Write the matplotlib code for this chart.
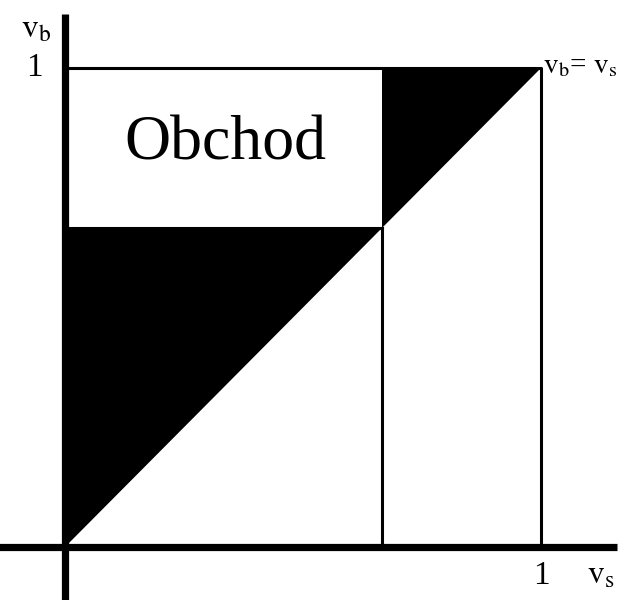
import matplotlib
matplotlib.use('Agg')
import matplotlib.pyplot as plt

plt.rcParams['font.family'] = 'Liberation Serif'
plt.rcParams['mathtext.fontset'] = 'stix'

# trade region boundary: seller value threshold / buyer value threshold
threshold = 2 / 3
region_label = 'Obchod'
tick_labels = ['1', '1']

fig = plt.figure(figsize=(6.27, 6.0), dpi=100)
ax = fig.add_axes([0, 0, 1, 1])
ax.set_xlim(-65 / 476, (627 - 65) / 476)
ax.set_ylim((547 - 600) / 479, 547 / 479)
ax.axis('off')

# black triangles
ax.fill([0, 0, threshold], [0, threshold, threshold], color='black', lw=0)
ax.fill([threshold, threshold, 1], [threshold, 1, 1], color='black', lw=0)

# unit square and threshold lines
ax.plot([0, 1, 1], [1, 1, 0], color='black', lw=2.2)
ax.plot([0, threshold], [threshold, threshold], color='black', lw=2.2)
ax.plot([threshold, threshold], [0, threshold], color='black', lw=2.2)

# axes
ax.plot([0, 0], [-0.12, 1.113], color='black', lw=5.2, solid_capstyle='butt')
ax.plot([-0.14, 1.16], [0, 0], color='black', lw=5.2, solid_capstyle='butt')

ax.text(0.336, 0.84, region_label, fontsize=46, ha='center', va='center')
ax.text(-0.065, 1.0, tick_labels[1], fontsize=24, ha='center', va='center')
ax.text(1.0, -0.06, tick_labels[0], fontsize=24, ha='center', va='center')
ax.text(-0.06, 1.08, r'$\mathrm{v_b}$', fontsize=24, ha='center', va='center')
ax.text(1.125, -0.058, r'$\mathrm{v_s}$', fontsize=24, ha='center', va='center')
ax.text(1.005, 1.005, r'$\mathrm{v_b}$= $\mathrm{v_s}$', fontsize=21, ha='left', va='center')

fig.savefig('out.png', dpi=100)
